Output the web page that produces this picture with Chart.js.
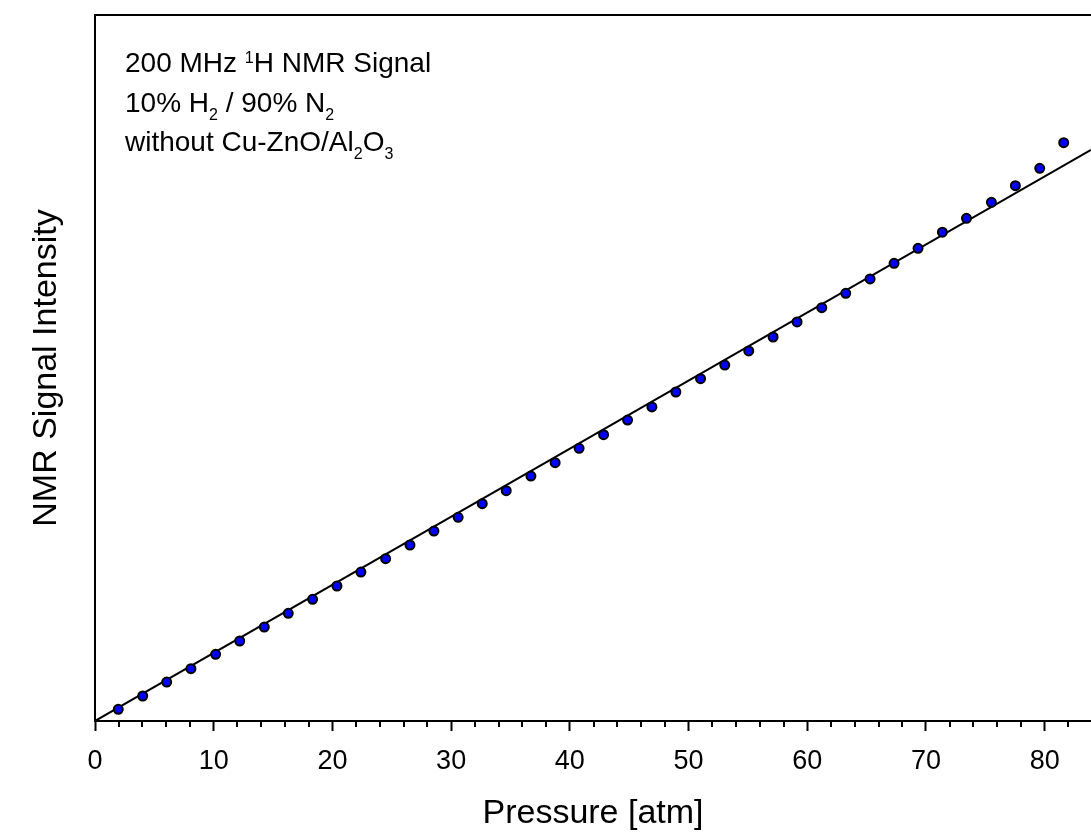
<!DOCTYPE html>
<html>
<head>
<meta charset="utf-8">
<title>NMR Signal Intensity vs Pressure</title>
<script src="https://cdn.jsdelivr.net/npm/chart.js@4.4.0/dist/chart.umd.min.js"></script>
<style>
  html, body { margin: 0; padding: 0; background: #fff; overflow: hidden; }
  #wrap { position: relative; width: 1091px; height: 837px; }
  #nmrCanvas { display: block; }
  #note {
    position: absolute; left: 125px; top: 43px;
    font: 28px/39.5px "Liberation Sans", Arial, sans-serif;
    color: #000; white-space: nowrap;
  }
  #note sup, #note sub { font-size: 16px; line-height: 0; position: relative; vertical-align: baseline; }
  #note sup { top: -9px; }
  #note sub { top: 8px; }
</style>
</head>
<body>
<div id="wrap">
  <canvas id="nmrCanvas" width="1091" height="837"></canvas>
  <div id="note">200 MHz <sup>1</sup>H NMR Signal<br>10% H<sub>2</sub> / 90% N<sub>2</sub><br>without Cu-ZnO/Al<sub>2</sub>O<sub>3</sub></div>
</div>
<script>
// measured points (pressure in atm, signal in arbitrary units)
const pressure = [1.96, 4.02, 6.04, 8.08, 10.16, 12.19, 14.26, 16.28, 18.33, 20.38,
                  22.40, 24.48, 26.53, 28.55, 30.59, 32.62, 34.64, 36.72, 38.76, 40.78,
                  42.84, 44.86, 46.91, 48.93, 51.01, 53.05, 55.07, 57.12, 59.14, 61.22,
                  63.24, 65.29, 67.31, 69.33, 71.38, 73.41, 75.51, 77.53, 79.58, 81.60];
const signal = [1.66, 3.54, 5.52, 7.41, 9.45, 11.33, 13.31, 15.25, 17.24, 19.12,
                21.10, 22.99, 24.93, 26.91, 28.85, 30.78, 32.62, 34.70, 36.59, 38.63,
                40.55, 42.63, 44.48, 46.60, 48.48, 50.42, 52.41, 54.39, 56.52, 58.54,
                60.58, 62.61, 64.83, 66.95, 69.24, 71.20, 73.47, 75.82, 78.29, 81.91];

// linear fit through the origin
const fitPressure = [0, 83.9];
const fitSignal = [0, 80.9];

const majorTicks = [0, 10, 20, 30, 40, 50, 60, 70, 80];
const minorTicks = [2, 4, 6, 8, 12, 14, 16, 18, 22, 24, 26, 28, 32, 34, 36, 38,
                    42, 44, 46, 48, 52, 54, 56, 58, 62, 64, 66, 68, 72, 74, 76, 78, 82];

const font = '"Liberation Sans", Arial, sans-serif';

// short ticks between the labelled ones
const minorTickPlugin = {
    id: 'minorTicks',
    afterDraw(chart) {
        const xs = chart.scales.x;
        const ctx = chart.ctx;
        ctx.save();
        ctx.strokeStyle = '#000';
        ctx.lineWidth = 2;
        ctx.beginPath();
        minorTicks.forEach(function (v) {
            const px = Math.round(xs.getPixelForValue(v));
            ctx.moveTo(px, xs.top);
            ctx.lineTo(px, xs.top + 6);
        });
        ctx.stroke();
        ctx.restore();
    }
};

// keep the plot running right up to the canvas edge
function noSidePadding(scale) {
    scale.paddingLeft = 0;
    scale.paddingRight = 0;
}

const ctx = document.getElementById('nmrCanvas');

const nmrChart = new Chart(ctx, {
    type: 'scatter',
    data: {
        datasets: [
            {
                label: 'signal',
                data: pressure.map((p, i) => ({x: p, y: signal[i]})),
                backgroundColor: '#0000ff',
                borderColor: '#000',
                borderWidth: 2,
                pointRadius: 4.5,
                order: 0
            },
            {
                label: 'fit',
                data: fitPressure.map((p, i) => ({x: p, y: fitSignal[i]})),
                showLine: true,
                borderColor: '#000',
                borderWidth: 2,
                pointRadius: 0,
                pointHoverRadius: 0,
                order: 1
            }
        ]
    },
    options: {
        responsive: false,
        animation: false,
        layout: {
            autoPadding: false,
            padding: { top: 15, right: 0, bottom: 0, left: 0 }
        },
        plugins: {
            legend: { display: false },
            tooltip: { enabled: false }
        },
        scales: {
            x: {
                type: 'linear',
                position: 'bottom',
                min: 0,
                max: 83.9,
                afterBuildTicks: function (scale) {
                    scale.ticks = majorTicks.map(v => ({value: v}));
                },
                afterFit: function (scale) {
                    scale.height = 116;
                    noSidePadding(scale);
                },
                grid: {
                    drawOnChartArea: false,
                    tickLength: 10,
                    tickWidth: 2,
                    tickColor: '#000'
                },
                border: { color: '#000', width: 2 },
                ticks: {
                    color: '#000',
                    padding: 14,
                    maxRotation: 0,
                    font: { family: font, size: 27 }
                },
                title: {
                    display: true,
                    text: 'Pressure [atm]',
                    color: '#000',
                    padding: { top: 0, bottom: 3 },
                    font: { family: font, size: 34 }
                }
            },
            xTop: {
                type: 'linear',
                position: 'top',
                afterFit: function (scale) {
                    scale.height = 0;
                    noSidePadding(scale);
                },
                grid: { drawOnChartArea: false, drawTicks: false },
                border: { color: '#000', width: 2 },
                ticks: { display: false }
            },
            y: {
                type: 'linear',
                position: 'left',
                min: 0,
                max: 100,
                afterFit: function (scale) { scale.width = 95; },
                grid: { drawOnChartArea: false, drawTicks: false },
                border: { color: '#000', width: 2 },
                ticks: { display: false },
                title: {
                    display: true,
                    text: 'NMR Signal Intensity',
                    color: '#000',
                    padding: { top: 26, bottom: 0 },
                    font: { family: font, size: 34 }
                }
            }
        }
    },
    plugins: [minorTickPlugin]
});
</script>
</body>
</html>
